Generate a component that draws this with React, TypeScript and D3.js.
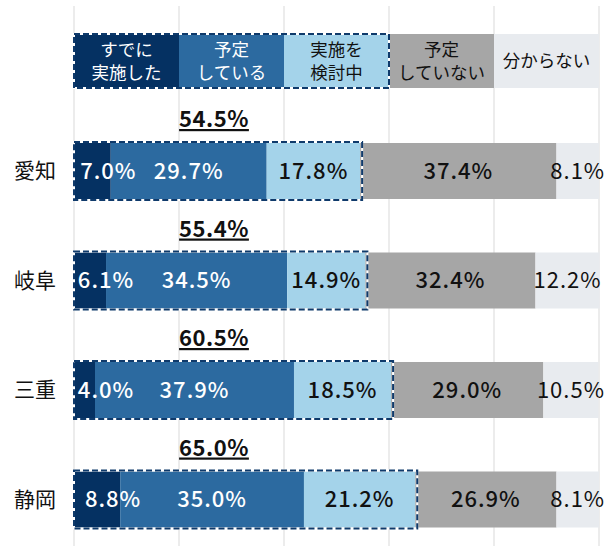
import React from "react";
import * as d3 from "d3";

const categories = ["愛知", "岐阜", "三重", "静岡"];
const seriesNames = [
  ["すでに", "実施した"],
  ["予定", "している"],
  ["実施を", "検討中"],
  ["予定", "していない"],
  ["分からない"],
];
const doneValues = [7.0, 6.1, 4.0, 8.8];
const plannedValues = [29.7, 34.5, 37.9, 35.0];
const consideringValues = [17.8, 14.9, 18.5, 21.2];
const notPlannedValues = [37.4, 32.4, 29.0, 26.9];
const unknownValues = [8.1, 12.2, 10.5, 8.1];
const totalLabels = ["54.5%", "55.4%", "60.5%", "65.0%"];
const gridTicks = [0, 20, 40, 60, 80, 100];

const colors = ["#053162", "#2c6aa0", "#a4d3ea", "#a6a6a6", "#e8ebef"];
const textColors = ["#ffffff", "#ffffff", "#111111", "#111111", "#111111"];
const FONT = "'Noto Sans CJK JP', 'Noto Sans', sans-serif";

const W = 614;
const H = 546;

export default function App() {
  const series = [doneValues, plannedValues, consideringValues, notPlannedValues, unknownValues];
  const x = d3.scaleLinear().domain([0, 100]).range([74, 599]);
  const y = d3
    .scaleBand<string>()
    .domain(categories)
    .range([143, 527.5])
    .paddingInner(0.4886)
    .paddingOuter(0);
  const bw = y.bandwidth();

  const rows = categories.map((c, i) => {
    const vals = series.map((s) => s[i]);
    let acc = 0;
    const segs = vals.map((v, k) => {
      const s = { k, v, x0: acc, x1: acc + v };
      acc += v;
      return s;
    });
    return { c, i, segs };
  });

  const legTop = 34;
  const legH = 54;
  const legStep = 20;

  const labelX = (s: { k: number; x0: number; x1: number }) => {
    const c = (x(s.x0) + x(s.x1)) / 2;
    if (s.k === 0) return Math.max(c + 16, x(0) + 32);
    return c;
  };

  return (
    <svg
      width={W}
      height={H}
      style={{ position: "absolute", left: 0, top: 0, background: "#fff" }}
      fontFamily={FONT}
    >
      {gridTicks.map((t) => (
        <line key={t} x1={x(t)} x2={x(t)} y1={6} y2={H} stroke="#d9d9d9" strokeWidth={1} />
      ))}

      {/* legend */}
      {seriesNames.map((lines, k) => {
        const lx0 = x(k * legStep);
        const lx1 = x((k + 1) * legStep);
        const cx = (lx0 + lx1) / 2;
        const cy = legTop + legH / 2;
        return (
          <g key={k}>
            <rect x={lx0} y={legTop} width={lx1 - lx0} height={legH} fill={colors[k]} />
            <text x={cx} textAnchor="middle" fontSize={17.5} fill={textColors[k]}>
              {lines.map((ln, j) => (
                <tspan
                  key={j}
                  x={cx}
                  y={cy + (j - (lines.length - 1) / 2) * 23}
                  dy="0.35em"
                >
                  {ln}
                </tspan>
              ))}
            </text>
          </g>
        );
      })}
      <rect x={x(0)} y={legTop} width={x(60) - x(0)} height={legH} fill="none" stroke="#fff" strokeWidth={2} />
      <rect
        x={x(0)}
        y={legTop}
        width={x(60) - x(0)}
        height={legH}
        fill="none"
        stroke="#0f3a6b"
        strokeWidth={2}
        strokeDasharray="6 3"
      />

      {/* bars */}
      {rows.map((r) => {
        const top = y(r.c)!;
        const frameEnd = r.segs[2].x1;
        return (
          <g key={r.c}>
            <text
              x={35}
              y={top + bw / 2}
              dy="0.35em"
              textAnchor="middle"
              fontSize={21}
              fill="#111"
            >
              {r.c}
            </text>
            {r.segs.map((s) => (
              <rect
                key={s.k}
                x={x(s.x0)}
                y={top}
                width={x(s.x1) - x(s.x0)}
                height={bw}
                fill={colors[s.k]}
              />
            ))}
            <rect x={x(0)} y={top - 1} width={x(frameEnd) - x(0) + 2} height={bw + 2} fill="none" stroke="#fff" strokeWidth={2} />
            <rect
              x={x(0)}
              y={top - 1}
              width={x(frameEnd) - x(0) + 2}
              height={bw + 2}
              fill="none"
              stroke="#0f3a6b"
              strokeWidth={2}
              strokeDasharray="6 3"
            />
            {r.segs.map((s) => (
              <text
                key={"t" + s.k}
                x={labelX(s)}
                y={top + bw / 2}
                dy="0.36em"
                textAnchor="middle"
                fontSize={22}
                fontWeight={s.k === 4 ? 400 : 500}
                letterSpacing={1}
                fill={textColors[s.k]}
              >
                {s.v.toFixed(1) + "%"}
              </text>
            ))}
            <text
              x={214}
              y={top - 16}
              textAnchor="middle"
              fontSize={22}
              fontWeight={600}
              letterSpacing={0.5}
              fill="#111"
              textDecoration="underline"
            >
              {totalLabels[r.i]}
            </text>
          </g>
        );
      })}
    </svg>
  );
}
